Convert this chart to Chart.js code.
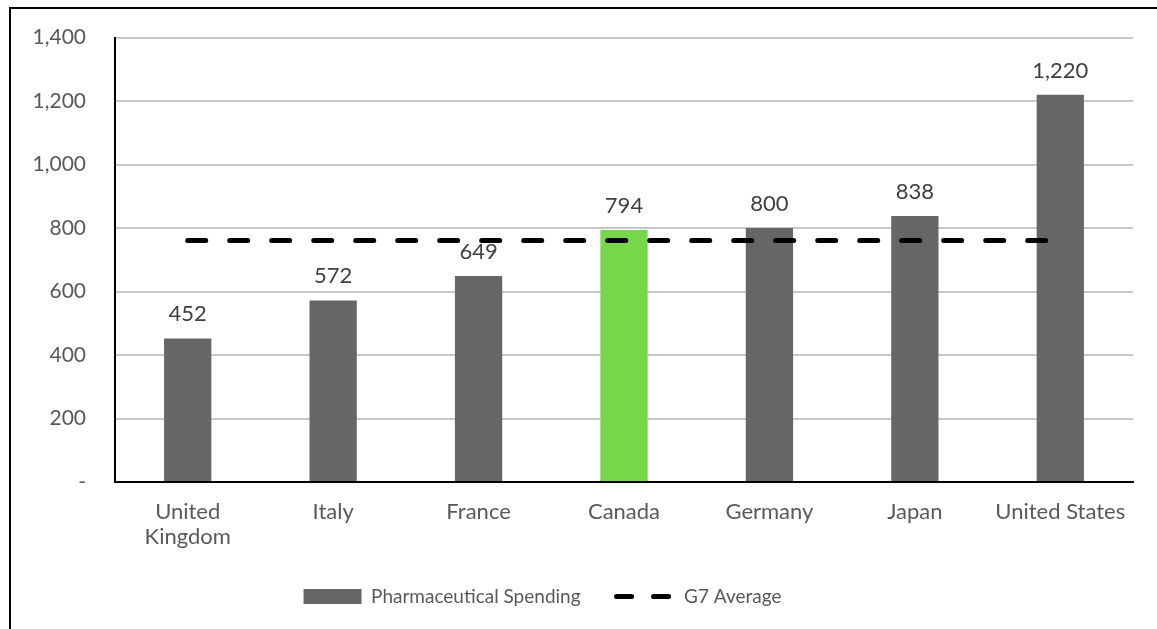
<!DOCTYPE html>
<html>
<head>
<meta charset="utf-8">
<script src="https://cdn.jsdelivr.net/npm/chart.js@4/dist/chart.umd.min.js"></script>
<style>
body { margin: 0; background: #fff; }
#wrap { position: relative; width: 1157px; height: 629px; }
#frame { position: absolute; left: 9px; top: 7px; width: 1200px; height: 700px;
  border-left: 2px solid #000; border-top: 2px solid #000; pointer-events: none; }
</style>
</head>
<body>
<div id="wrap">
<canvas id="chart" width="1157" height="629"></canvas>
<div id="frame"></div>
</div>
<script>
// Countries on the x axis
var countries = [["United", "Kingdom"], "Italy", "France", "Canada", "Germany", "Japan", "United States"];
// Pharmaceutical spending per country
var spending = [452, 572, 649, 794, 800, 838, 1220];
// G7 average, same value at every category
var g7Average = [761, 761, 761, 761, 761, 761, 761];
// Bar colours (Canada highlighted)
var barColors = ["#666666", "#666666", "#666666", "#78D64B", "#666666", "#666666", "#666666"];
// y axis ticks
var yMin = 0;
var yMax = 1400;
var yStep = 200;

var fontName = "Lato";

// draws the number above every bar
var valueLabels = {
	id: 'valueLabels',
	afterDatasetsDraw: function(chart) {
		var ctx = chart.ctx;
		var meta = chart.getDatasetMeta(0);
		ctx.save();
		ctx.font = "22px " + fontName;
		ctx.fillStyle = "#404040";
		ctx.textAlign = "center";
		ctx.textBaseline = "alphabetic";
		for (var i = 0; i < meta.data.length; i++) {
			var bar = meta.data[i];
			ctx.fillText(spending[i].toLocaleString('en-US'), bar.x, bar.y - 17);
		}
		ctx.restore();
	}
};

var config = {
	type: 'bar',
	data: {
		labels: countries,
		datasets: [{
			label: "Pharmaceutical Spending",
			data: spending,
			backgroundColor: barColors,
			borderWidth: 0,
			categoryPercentage: 1,
			barPercentage: 0.325,
			order: 2
		},
		{
			type: 'line',
			label: "G7 Average",
			data: g7Average,
			borderColor: "#000000",
			borderWidth: 5,
			borderDash: [18, 24],
			borderCapStyle: 'round',
			pointRadius: 0,
			fill: false,
			order: 1
		}]
	},
	options: {
		responsive: false,
		animation: false,
		// negative left padding only moves the legend to the left; the axis width makes up for it
		layout: { padding: { left: -48, right: 24, top: 10, bottom: 13 } },
		scales: {
			x: {
				offset: true,
				grid: { display: false, drawTicks: false },
				border: { display: true, color: "#000000", width: 2 },
				ticks: { color: "#595959", font: { family: fontName, size: 22, lineHeight: 1.15 }, padding: 17, maxRotation: 0, autoSkip: false },
				afterFit: function(scale) { scale.height = 69; }
			},
			y: {
				min: yMin,
				max: yMax,
				grid: { color: "#C8C8C8", lineWidth: 2, drawTicks: false },
				border: { display: true, color: "#000000", width: 2 },
				ticks: {
					stepSize: yStep,
					color: "#595959",
					// small line height keeps the top label from pushing the plot down
					font: { family: fontName, size: 21, lineHeight: 0.81 },
					padding: 29,
					callback: function(value) { return value === 0 ? '-' : value.toLocaleString('en-US'); }
				},
				afterFit: function(scale) { scale.width = 163; }
			}
		},
		plugins: {
			tooltip: { enabled: false },
			legend: {
				position: 'bottom',
				labels: {
					color: "#595959",
					font: { family: fontName, size: 19 },
					usePointStyle: true,
					pointStyleWidth: 58,
					boxHeight: 15,
					padding: 36,
					generateLabels: function(chart) {
						var items = Chart.defaults.plugins.legend.labels.generateLabels(chart);
						items.sort(function(a, b) { return a.datasetIndex - b.datasetIndex; });
						items[0].pointStyle = 'rect';
						items[0].fillStyle = "#666666";
						items[0].strokeStyle = "#666666";
						items[0].lineWidth = 0;
						items[1].pointStyle = 'line';
						items[1].strokeStyle = "#000000";
						items[1].lineWidth = 5;
						items[1].lineDash = [15, 22];
						items[1].lineCap = 'round';
						return items;
					}
				}
			}
		}
	},
	plugins: [valueLabels]
};

var ctx = document.getElementById('chart').getContext('2d');
window.myBar = new Chart(ctx, config);
</script>
</body>
</html>
